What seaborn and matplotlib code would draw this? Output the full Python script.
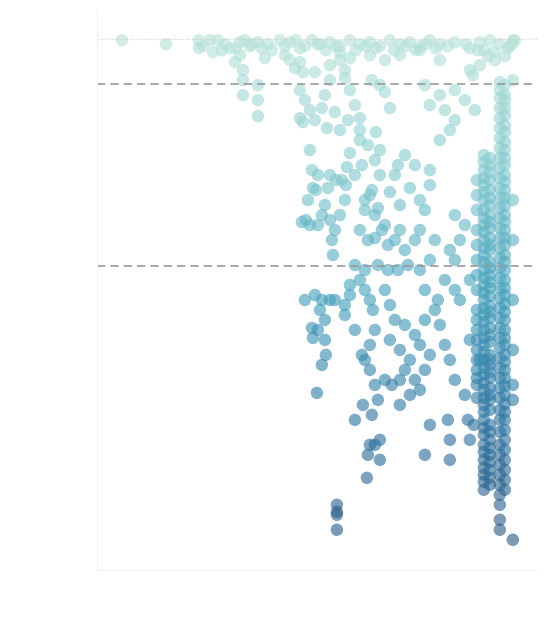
import pandas as pd
import matplotlib
matplotlib.use("Agg")
import matplotlib.pyplot as plt
import seaborn as sns

# scattered points (x, y), y grows downward
scatter_x = [122,166,199,199,210,218,225,230,240,245,250,258,262,268,280,290,296,305,312,320,330,340,350,360,370,380,390,400,410,420,430,440,455,470,480,490,500,510,515,505,495,470,440,420,400,385,370,350,340,330,315,300,285,265,240,235,213,345,340,
             203,222,236,252,272,285,300,318,326,336,356,366,376,394,406,416,426,436,448,484,494,508,512,488,478,466,
             243,243,243,258,258,258,290,295,303,300,305,310,303,300,325,330,322,345,350,355,360,348,335,340,327,372,380,390,385,360,368,375,380,372,355,362,345,340,335,332,315,310,312,318,313,316,308,306,310,322,325,330,328,330,336,302,333,318,360,368,375,382,388,395,400,405,415,420,425,430,430,415,405,398,390,395,410,440,450,455,445,430,425,440,455,475,465,473,480,460,465,450,455,435,470,455,385,375,365,378,365,370,420,400,380,376,360,350,347,342,346,
             315,322,330,320,325,318,325,312,313,322,326,317,305,335,345,350,355,345,350,360,365,370,373,375,370,362,365,370,375,378,372,370,368,375,367,380,385,390,395,390,400,410,405,415,410,400,420,425,430,420,415,425,435,440,445,450,455,448,450,450,465,470,468,474,480,470,460,455,445,425,438,430,420,408,398,388,378,365,355,430,425,405,392,400,385,363,380,355,
             513,513,513,513,513,513,513,513,513,337,337,337,337]
scatter_y = [40,44,40,48,40,40,44,48,42,40,46,42,48,44,40,42,40,46,40,44,42,46,40,44,42,46,40,44,42,46,40,44,42,48,42,40,44,46,40,56,60,70,60,50,55,60,55,58,52,65,72,62,55,58,55,62,52,70,60,
             46,50,48,44,50,46,48,44,50,46,50,46,48,50,46,50,44,48,46,50,52,48,44,56,50,44,
             70,80,95,85,100,116,60,68,72,90,100,110,122,118,95,80,108,78,90,105,118,120,112,130,128,80,85,108,92,140,145,160,175,190,175,165,200,215,230,240,120,150,170,175,188,190,200,220,225,215,205,220,188,175,180,222,255,225,230,240,238,230,245,240,230,250,240,230,210,185,170,165,155,165,192,175,188,140,130,120,110,105,85,95,90,110,100,75,65,240,225,250,260,240,280,215,225,215,210,208,200,195,200,205,150,132,130,153,167,180,185,
             295,300,300,310,320,330,340,328,338,365,355,393,300,300,305,295,330,315,285,280,290,300,310,330,345,355,360,370,385,400,415,445,455,445,478,460,290,305,320,340,350,360,370,380,395,405,390,370,355,345,335,320,310,325,345,360,380,420,440,460,395,440,420,425,360,340,300,290,280,290,300,260,270,265,270,270,265,270,265,425,455,325,385,380,380,405,440,420,
             40,80,200,240,300,350,385,400,540,505,512,515,530]

# dense vertical columns near the right edge
col_a_y = [155,162,170,178,185,192,200,210,218,225,232,240,248,255,262,270,278,285,293,300,308,315,322,330,338,345,352,360,368,375,383,390,398,405,412,420,428,435,445,452,460,468,475,482,490]
col_a2_y = [158,165,172,180,190,198,205,215,222,228,238,245,250,262,268,275,282,288,296,306,312,318,328,335,342,355,360,365,372,378,388,395,400,410,425,432,440,448,455,462,470,478,485]
col_a3_y = [180,195,210,230,245,260,275,290,310,320,330,340,350,360,370,378,385,398]
col_b_y = [82,90,98,108,118,128,138,148,158,168,178,188,198,208,218,228,238,248,258,268,278,288,298,308,318,328,338,348,358,368,378,388,398,410,420,432,445,455,465,475,485,495,505,520,530]
col_b2_y = [85,95,100,108,115,125,132,142,150,158,165,175,182,190,198,206,215,222,230,238,245,255,262,270,280,288,295,304,312,320,330,338,345,355,362,370,378,386,395,404,412,420,430,440,450,460,470,480,490]

xs = list(scatter_x) + [484]*len(col_a_y) + [490]*len(col_a2_y) + [477]*len(col_a3_y) + [500]*len(col_b_y) + [505]*len(col_b2_y)
ys = list(scatter_y) + col_a_y + col_a2_y + col_a3_y + col_b_y + col_b2_y
df = pd.DataFrame({"x": xs, "y": ys})

sns.set_style("white")
fig = plt.figure(figsize=(5.54, 6.38), dpi=100)
ax = fig.add_axes([0.175, 0.107, 0.794, 0.877])

pal = sns.blend_palette(["#b8e3d8", "#86cbcf", "#46a2bd", "#2f76a3", "#2d5a85"], as_cmap=True)
sns.scatterplot(data=df, x="x", y="y", hue="y", palette=pal, hue_norm=(40, 540),
                s=80, alpha=0.62, linewidth=0, legend=False, ax=ax)

ax.axhline(39, color="#cccccc", lw=0.8, ls=":")
ax.axhline(84, color="#999999", lw=1.2, ls=(0, (5, 3)))
ax.axhline(266, color="#999999", lw=1.2, ls=(0, (5, 3)))

ax.set_xlim(97, 537)
ax.set_ylim(570, 10)
ax.set_xticks([])
ax.set_yticks([])
ax.set_xlabel("")
ax.set_ylabel("")
for side in ["top", "right"]:
    ax.spines[side].set_visible(False)
for side in ["left", "bottom"]:
    ax.spines[side].set_color("#f0f0f0")

fig.savefig("out.png", dpi=100)
